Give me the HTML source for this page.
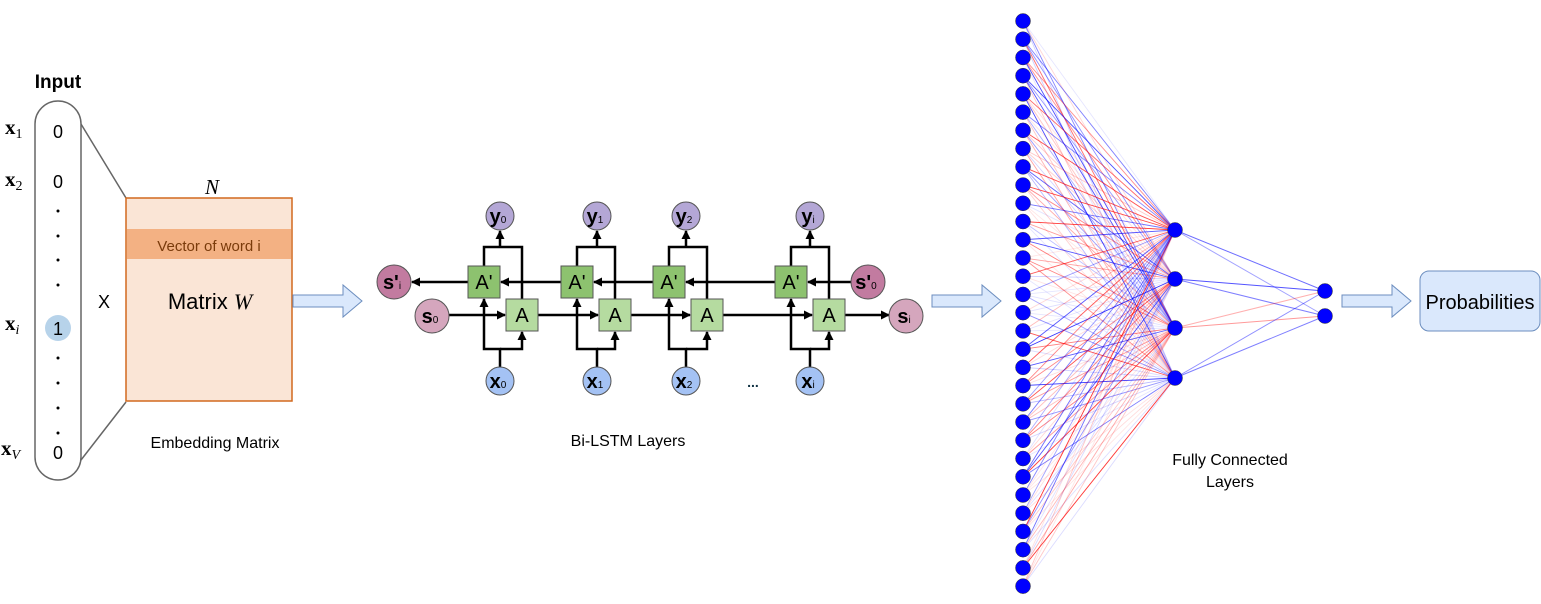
<!DOCTYPE html>
<html><head><meta charset="utf-8"><style>
html,body{margin:0;padding:0;background:#fff;}
svg{display:block;font-family:"Liberation Sans",sans-serif;}
</style></head><body>
<svg id="s" width="1541" height="604" viewBox="0 0 1541 604" xmlns="http://www.w3.org/2000/svg">
<defs>
<marker id="ar" markerWidth="9" markerHeight="9" refX="8" refY="4.5" orient="auto" markerUnits="userSpaceOnUse"><path d="M0,0 L9,4.5 L0,9 Z" fill="#000"/></marker>
</defs>
<!-- Input -->
<text x="58" y="88" font-size="19" font-weight="bold" text-anchor="middle">Input</text>
<rect x="35" y="101" width="46" height="379" rx="23" fill="#fff" stroke="#666" stroke-width="1.5"/>
<g font-family="Liberation Serif,serif" font-weight="bold" font-size="21">
<text x="5" y="134">x<tspan font-size="14" font-weight="normal" dy="4">1</tspan></text>
<text x="5" y="186">x<tspan font-size="14" font-weight="normal" dy="4">2</tspan></text>
<text x="5" y="330">x<tspan font-size="14" font-style="italic" font-weight="normal" dy="4">i</tspan></text>
<text x="1" y="455">x<tspan font-size="14" font-style="italic" font-weight="normal" dy="4">V</tspan></text>
</g>
<g font-size="18" text-anchor="middle">
<text x="58" y="138">0</text><text x="58" y="188">0</text><text x="58" y="459">0</text>
</g>
<circle cx="58" cy="328" r="13" fill="#b7d3ea"/>
<text x="58" y="335" font-size="18" text-anchor="middle">1</text>
<g fill="#000"><circle cx="58" cy="211" r="1.5"/><circle cx="58" cy="236" r="1.5"/><circle cx="58" cy="260" r="1.5"/><circle cx="58" cy="285" r="1.5"/><circle cx="58" cy="358" r="1.5"/><circle cx="58" cy="383" r="1.5"/><circle cx="58" cy="408" r="1.5"/><circle cx="58" cy="433" r="1.5"/></g>
<line x1="81" y1="124" x2="126" y2="198" stroke="#666" stroke-width="1.5"/>
<line x1="81" y1="460" x2="126" y2="402" stroke="#666" stroke-width="1.5"/>
<text x="104" y="308" font-size="18" text-anchor="middle">X</text>
<!-- Matrix -->
<text x="212" y="194" font-size="21" font-style="italic" font-family="Liberation Serif,serif" text-anchor="middle">N</text>
<rect x="126" y="198" width="166" height="203" fill="#fae5d6" stroke="#d2691e" stroke-width="1.5"/>
<rect x="127" y="229" width="164" height="30" fill="#f3b183"/>
<text x="209" y="251" font-size="15" fill="#7a3b0b" text-anchor="middle">Vector of word i</text>
<text x="210" y="309" font-size="22" text-anchor="middle">Matrix <tspan font-family="Liberation Serif,serif" font-style="italic">W</tspan></text>
<text x="215" y="448" font-size="16" text-anchor="middle">Embedding Matrix</text>
<!-- big arrows -->
<g fill="#dae8fc" stroke="#6c8ebf" stroke-width="1">
<path d="M293,295 H343 V285 L362,301 L343,317 V307 H293 Z"/>
<path d="M932,295 H982 V285 L1001,301 L982,317 V307 H932 Z"/>
<path d="M1342,295 H1392 V285 L1411,301 L1392,317 V307 H1342 Z"/>
</g>
<rect x="1420" y="271" width="120" height="60" rx="9" fill="#dae8fc" stroke="#6c8ebf"/>
<text x="1480" y="309" font-size="20" text-anchor="middle">Probabilities</text>
<!-- LSTM -->
<g id="lstm" stroke="#000" stroke-width="2.5" fill="none"></g>
<g id="nn"></g>
<text x="628" y="446" font-size="16" text-anchor="middle">Bi-LSTM Layers</text>
<text x="1230" y="465" font-size="16" text-anchor="middle">Fully Connected</text>
<text x="1230" y="487" font-size="16" text-anchor="middle">Layers</text>
<text x="753" y="387" font-size="14" font-weight="bold" fill="#134" text-anchor="middle">...</text>
</svg>
<script>
var NS="http://www.w3.org/2000/svg";
function el(p,t,a,txt){var e=document.createElementNS(NS,t);for(var k in a)e.setAttribute(k,a[k]);if(txt!==undefined)e.textContent=txt;p.appendChild(e);return e;}
var S=document.getElementById('s'),L=document.getElementById('lstm'),N=document.getElementById('nn');
var cols=[{p:484,a:522,m:500,n:'0'},{p:577,a:615,m:597,n:'1'},{p:669,a:707,m:686,n:'2'},{p:791,a:829,m:810,n:'i'}];
var yP=282,yA=315;
el(L,'path',{d:'M868,282 H'+(791+17),'marker-end':'url(#ar)'});
el(L,'path',{d:'M'+(791-16)+',282 H'+(669+17),'marker-end':'url(#ar)'});
el(L,'path',{d:'M'+(669-16)+',282 H'+(577+17),'marker-end':'url(#ar)'});
el(L,'path',{d:'M'+(577-16)+',282 H'+(484+17),'marker-end':'url(#ar)'});
el(L,'path',{d:'M'+(484-16)+',282 H412','marker-end':'url(#ar)'});
el(L,'path',{d:'M449,315 H'+(522-17),'marker-end':'url(#ar)'});
el(L,'path',{d:'M'+(522+16)+',315 H'+(615-17),'marker-end':'url(#ar)'});
el(L,'path',{d:'M'+(615+16)+',315 H'+(707-17),'marker-end':'url(#ar)'});
el(L,'path',{d:'M'+(707+16)+',315 H'+(829-17),'marker-end':'url(#ar)'});
el(L,'path',{d:'M'+(829+16)+',315 H889','marker-end':'url(#ar)'});
cols.forEach(function(c){
 el(L,'path',{d:'M'+c.m+',367 V349 H'+c.p+' V'+(yP+17),'marker-end':'url(#ar)'});
 el(L,'path',{d:'M'+c.m+',349 H'+c.a+' V'+(yA+17),'marker-end':'url(#ar)'});
 el(L,'path',{d:'M'+c.p+','+(yP-16)+' V247 H'+c.a+' V'+(yA-16)});
 el(L,'path',{d:'M'+c.m+',247 V'+(216+15),'marker-end':'url(#ar)'});
});
cols.forEach(function(c){
 el(S,'rect',{x:c.p-16,y:yP-16,width:32,height:32,fill:'#8dc26f',stroke:'#555'});
 el(S,'text',{x:c.p,y:yP+7,'font-size':20,'text-anchor':'middle'},"A'");
 el(S,'rect',{x:c.a-16,y:yA-16,width:32,height:32,fill:'#b5dba0',stroke:'#555'});
 el(S,'text',{x:c.a,y:yA+7,'font-size':20,'text-anchor':'middle'},"A");
 el(S,'circle',{cx:c.m,cy:216,r:14,fill:'#b4a7d6',stroke:'#555'});
 var t=el(S,'text',{x:c.m-2,y:223,'font-size':20,'font-weight':'bold','text-anchor':'middle'},'y');el(t,'tspan',{'font-size':10,'font-weight':'normal'},c.n);
 el(S,'circle',{cx:c.m,cy:381,r:14,fill:'#a4c2f4',stroke:'#555'});
 t=el(S,'text',{x:c.m-2,y:388,'font-size':20,'font-weight':'bold','text-anchor':'middle'},'x');el(t,'tspan',{'font-size':10,'font-weight':'normal'},c.n);
});
function circ(x,y,r,f,lab,sub){el(S,'circle',{cx:x,cy:y,r:r,fill:f,stroke:'#555'});var t=el(S,'text',{x:x-2,y:y+7,'font-size':20,'font-weight':'bold','text-anchor':'middle'},lab);el(t,'tspan',{'font-size':10,'font-weight':'normal'},sub);}
circ(394,282,17,'#c27ba0',"s'",'i');
circ(432,316,17,'#d5a6bd','s','0');
circ(868,282,17,'#c27ba0',"s'",'0');
circ(906,316,17,'#d5a6bd','s','i');
var seed=7;function rnd(){seed=(seed*16807)%2147483647;return seed/2147483647;}
var inY=[];for(var i=0;i<32;i++)inY.push(21+i*18.23);
var hY=[230,279,328,378],oY=[291,316];
inY.forEach(function(y){hY.forEach(function(h){var r=rnd();el(N,'line',{x1:1023,y1:y,x2:1175,y2:h,stroke:rnd()<0.5?'#f00':'#00f','stroke-width':0.9,'stroke-opacity':(0.1+0.7*r*r).toFixed(2)});});});
hY.forEach(function(h){oY.forEach(function(o){var r=rnd();el(N,'line',{x1:1175,y1:h,x2:1325,y2:o,stroke:rnd()<0.5?'#f00':'#00f','stroke-width':1,'stroke-opacity':(0.1+0.6*r).toFixed(2)});});});
inY.forEach(function(y){el(N,'circle',{cx:1023,cy:y,r:7.5,fill:'#0000ff',stroke:'#333','stroke-width':0.5});});
hY.forEach(function(y){el(N,'circle',{cx:1175,cy:y,r:7.5,fill:'#0000ff',stroke:'#333','stroke-width':0.5});});
oY.forEach(function(y){el(N,'circle',{cx:1325,cy:y,r:7.5,fill:'#0000ff',stroke:'#333','stroke-width':0.5});});
</script>
</body></html>
